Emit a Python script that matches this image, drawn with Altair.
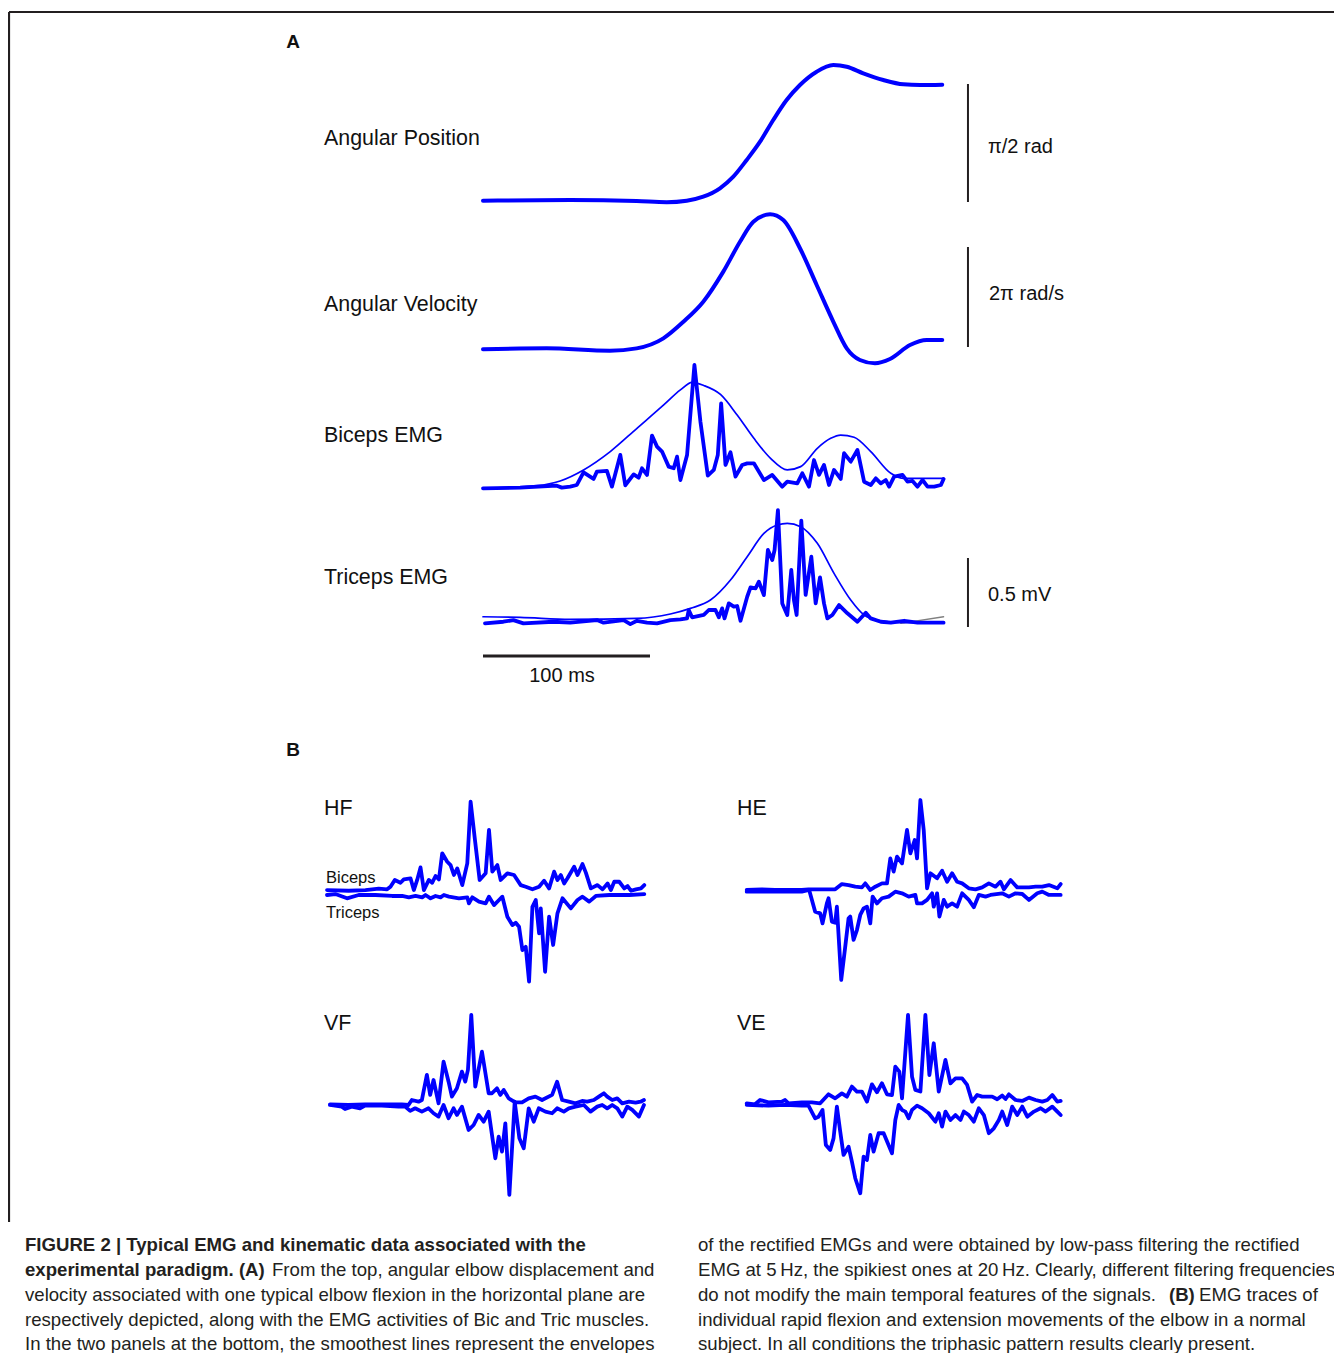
import math
import altair as alt
import pandas as pd

BLUE = "#0000ff"
INK = "#231f20"
FONT = "Liberation Sans"

# ---------------- Panel A data (time in ms, physical units) ----------------
POS_T = [0, 52.1, 92, 110, 122, 131.9, 141.9, 149.9, 157.9, 165.9, 173.8, 181.8,
         189.8, 199.8, 209.8, 217.8, 227.7, 239.7, 251.7, 261.7, 275]
POS_RAD = [0, 0.009, -0.004, -0.02, 0, 0.053, 0.165, 0.32, 0.542, 0.785, 1.074, 1.34,
           1.54, 1.717, 1.806, 1.784, 1.696, 1.607, 1.549, 1.54, 1.544]

VEL_T = [0, 38.1, 76, 92, 108, 120, 131.9, 143.9, 153.9, 161.9, 171.9, 179.8, 189.8,
         199.8, 209.8, 217.8, 225.7, 234.7, 243.7, 255.7, 265.7, 275]
VEL_RADS = [0, 0.06, -0.09, 0.06, 0.69, 1.73, 2.99, 4.88, 6.76, 8.02, 8.48, 8.12, 6.35,
            4.04, 1.73, 0.06, -0.67, -0.88, -0.61, 0.27, 0.58, 0.58]

BIC_T = [0, 22.2, 44.2, 47.2, 52.2, 56.2, 60.2, 66.2, 68.2, 74.2, 77.2, 82.2, 85.2, 90.2,
         93.2, 95.2, 98.2, 101.2, 104.2, 107.2, 111.2, 114.2, 116.2, 118.2, 122.2, 126.6,
         130.2, 134.6, 138.2, 140.6, 142.6, 145.2, 148.2, 151.2, 155.2, 158.2, 162.2, 168.2,
         173.2, 179.2, 182.2, 188.2, 191.2, 195.2, 198.2, 201.2, 204.2, 207.2, 210.2, 214.2,
         216.2, 220.2, 224.2, 228.2, 232.2, 235.2, 238.2, 241.2, 243.2, 246.2, 251.2, 254.2,
         257.2, 260.2, 263.2, 266.2, 270.2, 274.2, 275.8]
BIC_MV = [0, 0.005, 0.019, 0.005, 0.012, 0.024, 0.116, 0.068, 0.121, 0.126, 0.012, 0.242,
          0.022, 0.101, 0.077, 0.145, 0.097, 0.382, 0.302, 0.266, 0.157, 0.145, 0.229, 0.060,
          0.242, 0.894, 0.483, 0.092, 0.133, 0.242, 0.616, 0.169, 0.261, 0.085, 0.169, 0.181,
          0.181, 0.060, 0.097, 0.012, 0.048, 0.036, 0.109, 0.012, 0.205, 0.097, 0.169, 0.024,
          0.133, 0.068, 0.254, 0.193, 0.278, 0.048, 0.024, 0.072, 0.036, 0.060, 0.012, 0.085,
          0.097, 0.048, 0.053, 0.012, 0.060, 0.012, 0.012, 0.024, 0.068]

BIC_ENV_T = [0, 32.2, 46.2, 60.2, 76.2, 92.2, 108.2, 118.2, 125.2, 132.2, 142.2, 152.2,
             162.2, 172.2, 182.2, 190.2, 200.2, 208.2, 214.2, 222.2, 232.2, 244.2, 252.2, 275.8]
BIC_ENV_MV = [0, 0.019, 0.053, 0.133, 0.266, 0.435, 0.604, 0.713, 0.768, 0.745, 0.680, 0.531,
              0.362, 0.217, 0.133, 0.157, 0.290, 0.362, 0.386, 0.370, 0.266, 0.109, 0.072, 0.072]

TRI_T = [1.2, 12.2, 18.2, 24.2, 42.2, 52.2, 68.2, 72.2, 84.2, 88.2, 92.2, 98.2, 104.2, 112.2,
         118.2, 122.2, 123.2, 125.2, 132.2, 135.2, 139.2, 141.2, 143.2, 144.6, 147.2, 150.2,
         152.2, 154.2, 158.2, 160.2, 163.2, 165.2, 168.2, 170.6, 173.2, 174.6, 176.6, 179.2,
         182.2, 184.6, 186.2, 187.8, 190.6, 193.2, 196.6, 199.2, 201.8, 204.2, 206.2, 209.2,
         213.2, 218.2, 224.2, 229.2, 232.2, 238.2, 244.2, 252.2, 260.2, 275.8]
TRI_MV = [-0.005, 0.007, 0.019, -0.005, 0.007, 0, 0.019, 0, 0.019, -0.01, 0.014, 0, -0.005,
          0.019, 0.024, 0.031, 0.092, 0.039, 0.056, 0.092, 0.092, 0.039, 0.104, 0.031, 0.140,
          0.116, 0.121, 0.014, 0.188, 0.256, 0.249, 0.297, 0.200, 0.527, 0.454, 0.527, 0.816,
          0.140, 0.056, 0.382, 0.164, 0.056, 0.739, 0.201, 0.478, 0.140, 0.329, 0.140, 0.031,
          0.056, 0.128, 0.068, 0.007, 0.072, 0.031, 0.007, 0, 0.014, 0, 0]

TRI_ENV_T = [0, 22.2, 52.2, 92.2, 112.2, 124.2, 136.2, 148.2, 158.2, 168.2, 176.2, 182.2,
             190.2, 200.2, 210.2, 220.2, 228.2, 238.2, 252.2, 275.8]
TRI_ENV_MV = [0.043, 0.039, 0.024, 0.031, 0.063, 0.104, 0.164, 0.309, 0.478, 0.647, 0.708,
              0.720, 0.696, 0.575, 0.357, 0.164, 0.056, 0.014, 0, 0]

TRI_GRAY_T = [250.2, 275.8]
TRI_GRAY_MV = [-0.005, 0.043]

# ---------------- Panel B data (ms, mV; triceps drawn downward) ----------------
HF_BIC_T = [0, 13, 23, 31, 36, 38, 40.6, 44, 46, 50, 52, 54, 56, 58, 61, 63, 65, 67, 69, 72,
            74, 76, 78, 81, 84, 86, 88.6, 91.4, 95, 97, 99, 102, 104, 108, 112, 116, 119, 123,
            127, 130, 133, 136, 138, 140, 142, 144, 148, 150, 153, 155, 158, 162, 165, 168,
            170, 172, 175, 178, 180, 182, 185, 188, 190]
HF_BIC = [0.012, 0.007, 0.012, 0.022, 0.017, 0.036, 0.085, 0.065, 0.089, 0.097, 0.012, 0.085,
          0.176, 0.012, 0.085, 0.065, 0.114, 0.089, 0.278, 0.217, 0.193, 0.121, 0.169, 0.048,
          0.205, 0.652, 0.374, 0.085, 0.133, 0.447, 0.145, 0.193, 0.085, 0.133, 0.121, 0.048,
          0.036, 0.017, 0.036, 0.080, 0.024, 0.145, 0.085, 0.121, 0.060, 0.097, 0.181, 0.121,
          0.200, 0.138, 0.024, 0.048, 0.017, 0.060, 0.012, 0.072, 0.072, 0.024, 0.041, 0.007,
          0.017, 0.024, 0.048]
HF_TRI_T = [0, 5, 12, 19, 29, 39, 45, 49, 53, 57, 59, 62, 65, 68, 70, 73, 79, 84, 85, 87, 91,
            95, 97, 100, 103, 105, 108, 111, 113, 115, 117, 119, 121, 123, 125, 127, 128,
            130.6, 133, 135.4, 138, 141, 146, 150, 153, 157, 161, 169, 181, 190]
HF_TRI = [-0.024, -0.017, -0.048, -0.024, -0.024, -0.031, -0.031, -0.041, -0.031, -0.041,
          -0.024, -0.048, -0.031, -0.041, -0.024, -0.036, -0.048, -0.041, -0.085, -0.041,
          -0.072, -0.085, -0.036, -0.097, -0.060, -0.036, -0.181, -0.242, -0.225, -0.254,
          -0.423, -0.399, -0.652, -0.109, -0.060, -0.302, -0.121, -0.580, -0.181, -0.386,
          -0.157, -0.048, -0.121, -0.060, -0.036, -0.072, -0.031, -0.024, -0.024, -0.017]

HE_BIC_T = [0, 9, 17, 33, 37, 45, 53, 57, 61, 65, 69, 71, 74, 77, 81, 84, 86, 88, 90, 93, 96,
            98, 100.6, 102, 104, 106, 108, 110, 114, 117, 120, 123, 126, 129, 133, 137, 141,
            145, 149, 152, 154, 158, 162, 169, 173, 177, 181, 186, 188]
HE_BIC = [0, 0.005, 0, 0, 0.005, 0.005, 0.005, 0.043, 0.036, 0.024, 0.019, 0.048, 0, 0.024,
          0.048, 0.048, 0.229, 0.133, 0.242, 0.193, 0.435, 0.266, 0.362, 0.229, 0.652, 0.435,
          0.012, 0.121, 0.085, 0.140, 0.060, 0.121, 0.060, 0.048, 0.012, 0.005, 0.019, 0.048,
          0.024, 0.060, 0.005, 0.072, 0.019, 0.019, 0.024, 0.024, 0.036, 0.012, 0.043]
HE_TRI_T = [0, 13, 33, 37.4, 41, 44, 45.4, 48, 49, 51, 53, 54, 56.6, 59, 61, 62, 64, 66, 68,
            70, 72, 74, 75.4, 78, 81, 85, 89, 93, 97, 101, 102, 105, 108, 111, 112, 114,
            115.4, 118, 120, 123, 126, 129, 133, 136, 139, 143, 146, 153, 157, 161, 165, 169,
            174, 177, 181, 188]
HE_TRI = [-0.012, -0.012, -0.012, 0, -0.157, -0.169, -0.242, -0.097, -0.060, -0.229, -0.237,
          -0.121, -0.652, -0.411, -0.205, -0.193, -0.362, -0.290, -0.181, -0.133, -0.121,
          -0.242, -0.048, -0.097, -0.060, -0.048, -0.012, -0.024, -0.048, -0.036, -0.097,
          -0.097, -0.072, -0.024, -0.121, -0.024, -0.193, -0.072, -0.121, -0.097, -0.121,
          -0.024, -0.072, -0.125, -0.036, -0.048, -0.036, -0.024, -0.048, -0.024, -0.029,
          -0.072, -0.024, -0.012, -0.036, -0.036]

VF_BIC_T = [0, 11, 21, 31, 43, 47, 49, 53, 55, 58, 60, 62, 65, 68, 71, 73, 76, 79, 81, 82.6,
            84.6, 87, 91, 95, 97, 100, 102, 104, 107, 111, 115, 119, 123, 127, 133, 136, 139,
            143, 147, 151, 154, 158, 161, 164, 166, 169, 172, 175, 179, 183, 186, 188]
VF_BIC = [0, -0.005, 0, 0, 0, -0.005, 0.031, 0.019, 0.031, 0.213, 0.068, 0.176, 0.007,
          0.309, 0.164, 0.056, 0.116, 0.237, 0.164, 0.249, 0.648, 0.128, 0.381, 0.080, 0.080,
          0.116, 0.068, 0.104, 0.043, 0.014, 0.014, 0.043, 0.056, 0.031, 0.068, 0.164, 0.031,
          0.019, 0.007, 0.024, 0.019, 0.031, 0.056, 0.080, 0.056, 0.031, 0.043, 0.007, 0.019,
          0.012, 0.019, 0.031]
VF_TRI_T = [0, 7, 9, 13, 18, 21, 31, 41, 45, 48, 51, 55, 59, 62, 65, 68, 71, 74, 76, 79, 83,
            86, 89, 92, 95, 99, 101, 103, 105, 107.4, 110.6, 113.4, 116, 119, 122, 125, 129,
            133, 136, 140, 143, 147, 152, 156, 160, 163, 166, 169, 172, 175, 178, 181, 185, 188]
VF_TRI = [-0.005, -0.017, -0.034, -0.017, -0.029, -0.010, -0.010, -0.017, -0.017, -0.048,
          -0.029, -0.053, -0.029, -0.065, -0.089, -0.005, -0.101, -0.029, -0.077, -0.017,
          -0.186, -0.150, -0.077, -0.126, -0.053, -0.391, -0.235, -0.343, -0.138, -0.657,
          0.019, -0.246, -0.319, -0.029, -0.126, -0.029, -0.053, -0.065, -0.029, -0.053,
          -0.029, -0.017, -0.005, -0.053, -0.017, -0.005, -0.029, -0.005, -0.029, -0.089,
          -0.017, -0.041, -0.089, -0.005]

VE_BIC_T = [0, 5, 8, 13, 21, 23, 25, 33, 39, 44, 49, 53, 57, 60, 63, 66, 69, 72, 75, 78, 81,
            84, 87, 89, 91.4, 93, 96.6, 99, 101, 104, 107, 109.4, 112, 115, 119, 122, 125,
            129, 132, 135, 138, 141, 147, 150, 153, 155, 157, 161, 165, 169, 173, 177, 180,
            183, 186, 188]
VE_BIC = [0, -0.007, 0.024, 0.007, 0.012, 0.024, 0, 0.007, 0.007, 0, 0.065, 0.036, 0.072,
          0.048, 0.121, 0.085, 0.085, 0.012, 0.137, 0.080, 0.145, 0.065, 0.060, 0.266, 0.229,
          0.036, 0.640, 0.193, 0.097, 0.085, 0.640, 0.205, 0.435, 0.085, 0.314, 0.145, 0.181,
          0.181, 0.133, 0.012, 0.060, 0.048, 0.048, 0.029, 0.056, 0.031, 0.065, 0.024, 0.017,
          0.041, 0.024, 0.012, 0.024, 0.060, 0.012, 0.017]
VE_TRI_T = [0, 13, 23, 33, 37, 41, 43, 45.4, 47.4, 50, 52, 54, 56, 58, 61, 63, 65, 68, 70,
            72, 74, 76, 79, 82, 87, 89, 91, 93, 95, 97, 99, 102, 105, 109, 113, 115, 117, 119,
            122, 125, 128, 130, 133, 136, 139, 142, 145, 148, 151, 153, 156, 159, 162, 165,
            168, 172, 176, 179, 183, 186, 188]
VE_TRI = [-0.012, -0.017, -0.012, -0.017, -0.017, -0.109, -0.097, -0.048, -0.302, -0.338,
          -0.254, -0.024, -0.205, -0.374, -0.314, -0.423, -0.543, -0.652, -0.386, -0.411,
          -0.229, -0.350, -0.217, -0.217, -0.362, -0.121, -0.012, -0.048, -0.060, -0.109,
          -0.048, -0.017, -0.036, -0.072, -0.133, -0.072, -0.169, -0.060, -0.121, -0.085,
          -0.121, -0.060, -0.085, -0.133, -0.036, -0.085, -0.217, -0.181, -0.121, -0.060,
          -0.157, -0.024, -0.085, -0.024, -0.097, -0.060, -0.036, -0.060, -0.024, -0.060,
          -0.085]

# ---------------- Texts ----------------
ROW_LABELS = ["Angular Position", "Angular Velocity", "Biceps EMG", "Triceps EMG"]
BAR_LABELS = ["\u03c0/2 rad", "2\u03c0 rad/s", "0.5 mV"]
TIME_BAR_LABEL = "100 ms"
B_LABELS = ["HF", "HE", "VF", "VE"]
CAPTION_LEFT = [
    [("FIGURE 2 | Typical EMG and kinematic data associated with the", "bold")],
    [("experimental paradigm. (A)", "bold"),
     ("From the top, angular elbow displacement and", "normal")],
    [("velocity associated with one typical elbow flexion in the horizontal plane are", "normal")],
    [("respectively depicted, along with the EMG activities of Bic and Tric muscles.", "normal")],
    [("In the two panels at the bottom, the smoothest lines represent the envelopes", "normal")],
]
CAPTION_RIGHT = [
    [("of the rectified EMGs and were obtained by low-pass filtering the rectified", "normal")],
    [("EMG at 5\u2009Hz, the spikiest ones at 20\u2009Hz. Clearly, different filtering frequencies", "normal")],
    [("do not modify the main temporal features of the signals.", "normal"),
     ("(B)", "bold"), ("EMG traces of", "normal")],
    [("individual rapid flexion and extension movements of the elbow in a normal", "normal")],
    [("subject. In all conditions the triphasic pattern results clearly present.", "normal")],
]

# ---------------- Layout (pixels in the chart) ----------------
W, H = 1326, 1345
PX_MS = 1.67
A_X0 = 475
PX_MV = 138.0
ROW_POS = (192.7, 118.0 / (math.pi / 2))
ROW_VEL = (341.3, 100.0 / (2 * math.pi))
ROW_BIC = (480.3, PX_MV)
ROW_TRI = (614.7, PX_MV)
BAR_T = 290.4
BAR_POS_ZERO, BAR_VEL_ZERO, BAR_MV_ZERO = 194.0, 339.0, 619.0
TIME_BAR_Y = 648
B_PANELS = {"HF": (319, 883.7), "HE": (738.7, 882.0), "VF": (322, 1096.3), "VE": (738.7, 1095.3)}
CAP_SIZE = 18.6


def xscale(x0):
    return alt.Scale(domain=[0, 100], range=[x0, x0 + 100 * PX_MS], zero=False, nice=False)


def yscale(zero, ppu):
    return alt.Scale(domain=[0, 1], range=[zero, zero - ppu], zero=False, nice=False)


def trace(t, v, xs, ys, sw, color=BLUE, interp="linear"):
    df = pd.DataFrame({"t": t, "v": v})
    return alt.Chart(df).mark_line(
        color=color, strokeWidth=sw, strokeJoin="round", strokeCap="round", interpolate=interp
    ).encode(
        x=alt.X("t:Q", scale=xs, axis=None),
        y=alt.Y("v:Q", scale=ys, axis=None),
    )


def vbar(lo, hi, zero, ppu):
    df = pd.DataFrame({"t": [BAR_T], "lo": [lo], "hi": [hi]})
    return alt.Chart(df).mark_rule(color=INK, strokeWidth=2).encode(
        x=alt.X("t:Q", scale=xscale(A_X0), axis=None),
        y=alt.Y("lo:Q", scale=yscale(zero, ppu), axis=None),
        y2="hi:Q",
    )


def texts(rows, weight="normal", align="left", font=FONT, color="#111111"):
    df = pd.DataFrame(rows, columns=["text", "x", "y", "size"])
    return alt.Chart(df).mark_text(
        align=align, baseline="middle", fontWeight=weight, font=font, color=color
    ).encode(
        x=alt.X("x:Q", scale=None),
        y=alt.Y("y:Q", scale=None),
        size=alt.Size("size:Q", scale=None, legend=None),
        text="text:N",
    )


layers = []

# Frame
frame = pd.DataFrame({"x": [1, 1], "x2": [W, 1], "y": [4, 4], "y2": [4, 1214]})
layers.append(alt.Chart(frame).mark_rule(color=INK, strokeWidth=2.2).encode(
    x=alt.X("x:Q", scale=None), x2="x2:Q", y=alt.Y("y:Q", scale=None), y2="y2:Q"))

# Panel A traces
xa = xscale(A_X0)
layers.append(trace(POS_T, POS_RAD, xa, yscale(*ROW_POS), 4.0, interp="monotone"))
layers.append(trace(VEL_T, VEL_RADS, xa, yscale(*ROW_VEL), 4.0, interp="monotone"))
layers.append(trace(BIC_ENV_T, BIC_ENV_MV, xa, yscale(*ROW_BIC), 1.7, interp="monotone"))
layers.append(trace(BIC_T, BIC_MV, xa, yscale(*ROW_BIC), 3.8))
layers.append(trace(TRI_GRAY_T, TRI_GRAY_MV, xa, yscale(*ROW_TRI), 1.4, color="#808080"))
layers.append(trace(TRI_ENV_T, TRI_ENV_MV, xa, yscale(*ROW_TRI), 1.7, interp="monotone"))
layers.append(trace(TRI_T, TRI_MV, xa, yscale(*ROW_TRI), 3.8))

# Scale bars
layers.append(vbar(0, math.pi / 2, BAR_POS_ZERO, ROW_POS[1]))
layers.append(vbar(0, 2 * math.pi, BAR_VEL_ZERO, ROW_VEL[1]))
layers.append(vbar(0, 0.5, BAR_MV_ZERO, PX_MV))
tbar = pd.DataFrame({"t0": [0], "t1": [100]})
layers.append(alt.Chart(tbar).mark_rule(color=INK, strokeWidth=3).encode(
    x=alt.X("t0:Q", scale=xscale(A_X0), axis=None), x2="t1:Q", y=alt.value(TIME_BAR_Y)))

# Panel B traces
B_DATA = [
    ("HF", HF_BIC_T, HF_BIC, HF_TRI_T, HF_TRI),
    ("HE", HE_BIC_T, HE_BIC, HE_TRI_T, HE_TRI),
    ("VF", VF_BIC_T, VF_BIC, VF_TRI_T, VF_TRI),
    ("VE", VE_BIC_T, VE_BIC, VE_TRI_T, VE_TRI),
]
for name, bt, bv, tt, tv in B_DATA:
    x0, zero = B_PANELS[name]
    layers.append(trace(tt, tv, xscale(x0), yscale(zero, PX_MV), 3.8))
    layers.append(trace(bt, bv, xscale(x0), yscale(zero, PX_MV), 3.8))

# Labels
lab = [
    (ROW_LABELS[0], 316, 131, 21.4), (ROW_LABELS[1], 316, 297, 21.4),
    (ROW_LABELS[2], 316, 428, 21.4), (ROW_LABELS[3], 316, 570, 21.4),
    (BAR_LABELS[0], 980, 139, 20), (BAR_LABELS[1], 981, 286, 20), (BAR_LABELS[2], 980, 587, 20),
    (B_LABELS[0], 316, 801, 21.4), (B_LABELS[1], 729, 801, 21.4),
    (B_LABELS[2], 316, 1016, 21.4), (B_LABELS[3], 729, 1016, 21.4),
    ("Biceps", 318, 870, 16.5), ("Triceps", 318, 905, 16.5),
]
layers.append(texts(lab))
layers.append(texts([(TIME_BAR_LABEL, 554, 668, 20)], align="center"))
layers.append(texts([("A", 285, 34, 19), ("B", 285, 742, 19)], weight="bold", align="center"))

# Caption
CAP_Y = [1237, 1262, 1287, 1312, 1336]
SEG_X_LEFT = [[17], [17, 264], [17], [17], [17]]
SEG_X_RIGHT = [[690], [690], [690, 1161, 1191], [690], [690]]
cap_norm, cap_bold = [], []
for lines, xs in ((CAPTION_LEFT, SEG_X_LEFT), (CAPTION_RIGHT, SEG_X_RIGHT)):
    for i, segs in enumerate(lines):
        for (txt, wt), xx in zip(segs, xs[i]):
            (cap_bold if wt == "bold" else cap_norm).append((txt, xx, CAP_Y[i], CAP_SIZE))
layers.append(texts(cap_norm, color=INK))
layers.append(texts(cap_bold, weight="bold", color=INK))

chart = alt.layer(*layers).resolve_scale(x="independent", y="independent").properties(
    width=W, height=H, padding=0, autosize=alt.AutoSizeParams(type="none")
).configure_view(stroke=None)

chart.save("out.html", embed_options={"renderer": "svg", "actions": False})
